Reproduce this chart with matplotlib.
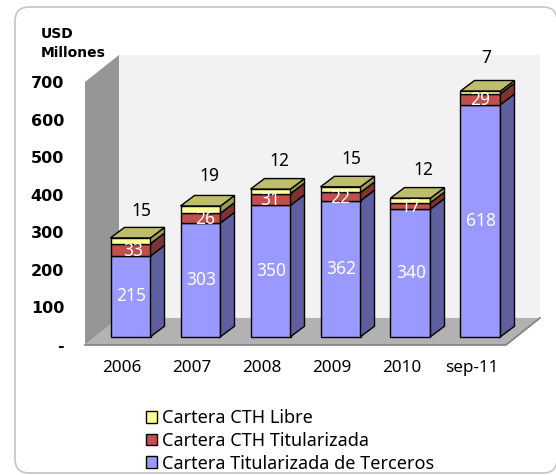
import matplotlib as mpl
mpl.use('AGG')
import matplotlib.pyplot as plt
from matplotlib.patches import FancyBboxPatch, Patch, Polygon
import numpy as np

periods = ['2006', '2007', '2008', '2009', '2010', 'sep-11']
terceros = [215, 303, 350, 362, 340, 618]
titularizada = [33, 26, 31, 22, 17, 29]
libre = [15, 19, 12, 15, 12, 7]
y_ticks = [0, 100, 200, 300, 400, 500, 600, 700]
y_labels = ['-', '100', '200', '300', '400', '500', '600', '700']

W, H = 556, 475
SANS = ['Noto Sans', 'DejaVu Sans']
BOLD = ['DejaVu Sans']

# fake 3d depths, in data units
BAR_W = 40 / 70.
BAR_DX = 14 / 70.
BAR_DY = 28.
BAR_BASE = 22.
WALL_DX = 34 / 70.
WALL_DY = 72.

seg_colors = [('#9999FF', '#5F5F9F'), ('#C0504D', '#7F3232'), ('#FFFF99', '#9C9C58')]
top_color = '#BDBD6C'

fig = plt.figure(figsize=(W / 100., H / 100.), dpi=100)

# rounded outer frame
bg = fig.add_axes([0, 0, 1, 1])
bg.set_xlim(0, W)
bg.set_ylim(H, 0)
bg.axis('off')
bg.add_patch(FancyBboxPatch((15, 7), 542, 466, boxstyle='round,pad=0,rounding_size=14',
                            mutation_scale=1, fc='white', ec='#C4C4C4', lw=1.2, clip_on=False))

ax = fig.add_axes([85. / W, (H - 345.) / H, 421. / W, 263. / H])
ax.patch.set_alpha(0)
ax.set_xlim((85 - 130.5) / 70., (506 - 130.5) / 70.)
ax.set_ylim(0, 700)
for s in ax.spines.values():
    s.set_visible(False)

x0, x1 = ax.get_xlim()

def poly(pts, fc, ec='none', lw=0, z=1):
    ax.add_patch(Polygon(pts, closed=True, fc=fc, ec=ec, lw=lw, zorder=z, clip_on=False))

# back wall, side wall, floor
poly([(x0 + WALL_DX, WALL_DY), (x1 + WALL_DX, WALL_DY), (x1 + WALL_DX, 700 + WALL_DY), (x0 + WALL_DX, 700 + WALL_DY)], '#F2F2F2')
poly([(x0, 0), (x0 + WALL_DX, WALL_DY), (x0 + WALL_DX, 700 + WALL_DY), (x0, 700)], '#969696')
poly([(x0, 0), (x1, 0), (x1 + WALL_DX, WALL_DY), (x0 + WALL_DX, WALL_DY)], '#B2B2B2')
ax.plot([x0, x1, x1 + WALL_DX], [0, 0, WALL_DY], color='#808080', lw=1.2, zorder=1, clip_on=False)

xs = np.arange(len(periods))
bottom = np.full(len(periods), BAR_BASE)
for vals, (front, side) in zip([terceros, titularizada, libre], seg_colors):
    ax.bar(xs, vals, BAR_W, bottom=bottom, color=front, edgecolor='black', lw=1.0, zorder=3, clip_on=False)
    for x, b, v in zip(xs, bottom, vals):
        r = x + BAR_W / 2
        poly([(r, b), (r + BAR_DX, b + BAR_DY), (r + BAR_DX, b + v + BAR_DY), (r, b + v)],
             side, 'black', 1.0, 3)
    bottom = bottom + np.array(vals)

for x, t in zip(xs, bottom):
    l = x - BAR_W / 2
    r = x + BAR_W / 2
    poly([(l, t), (r, t), (r + BAR_DX, t + BAR_DY), (l + BAR_DX, t + BAR_DY)], top_color, 'black', 1.0, 3)

# value labels
red_shift = [3, 5, 0, 0, 0, 0]
top_shift = [11, 9, 9, 11, 13, 6]
top_rise = [27, 30, 28, 28, 28, 33]
for i in xs:
    ax.annotate(str(terceros[i]), (i, BAR_BASE + terceros[i] / 2.), xytext=(0.5, 0), textcoords='offset pixels',
                color='white', ha='center', va='center', fontsize=12.5, family=SANS, zorder=5)
    ax.annotate(str(titularizada[i]), (i, BAR_BASE + terceros[i] + titularizada[i] / 2.), xytext=(red_shift[i], -1),
                textcoords='offset pixels', color='white', ha='center', va='center', fontsize=12.5, family=SANS, zorder=5)
    ax.annotate(str(libre[i]), (i, bottom[i]), xytext=(top_shift[i], top_rise[i]), textcoords='offset pixels',
                color='black', ha='center', va='center', fontsize=12.5, family=SANS, zorder=5)

ax.set_xticks(xs - 9 / 70.)
ax.set_xticklabels(periods, fontsize=12.3, family=SANS)
ax.set_yticks(y_ticks)
ax.set_yticklabels(y_labels, fontsize=11.5, family=BOLD, fontweight='bold')
ax.tick_params(axis='x', length=0, pad=11)
ax.tick_params(axis='y', length=0, pad=15)

bg.text(41, 38, 'USD', fontsize=10, family=BOLD, fontweight='bold', va='baseline')
bg.text(41, 57, 'Millones', fontsize=10, family=BOLD, fontweight='bold', va='baseline')

handles = [Patch(fc='#FFFF99', ec='black', lw=1), Patch(fc='#C0504D', ec='black', lw=1), Patch(fc='#9999FF', ec='black', lw=1)]
names = ['Cartera CTH Libre', 'Cartera CTH Titularizada', 'Cartera Titularizada de Terceros']
bg.legend(handles, names, loc='upper left', bbox_to_anchor=(145.5 / W, (H - 409.) / H), frameon=False,
          prop={'family': SANS, 'size': 13}, handlelength=0.64, handleheight=0.64, handletextpad=0.3,
          labelspacing=0.27, borderpad=0, borderaxespad=0)

plt.savefig('out.png', dpi=100)
